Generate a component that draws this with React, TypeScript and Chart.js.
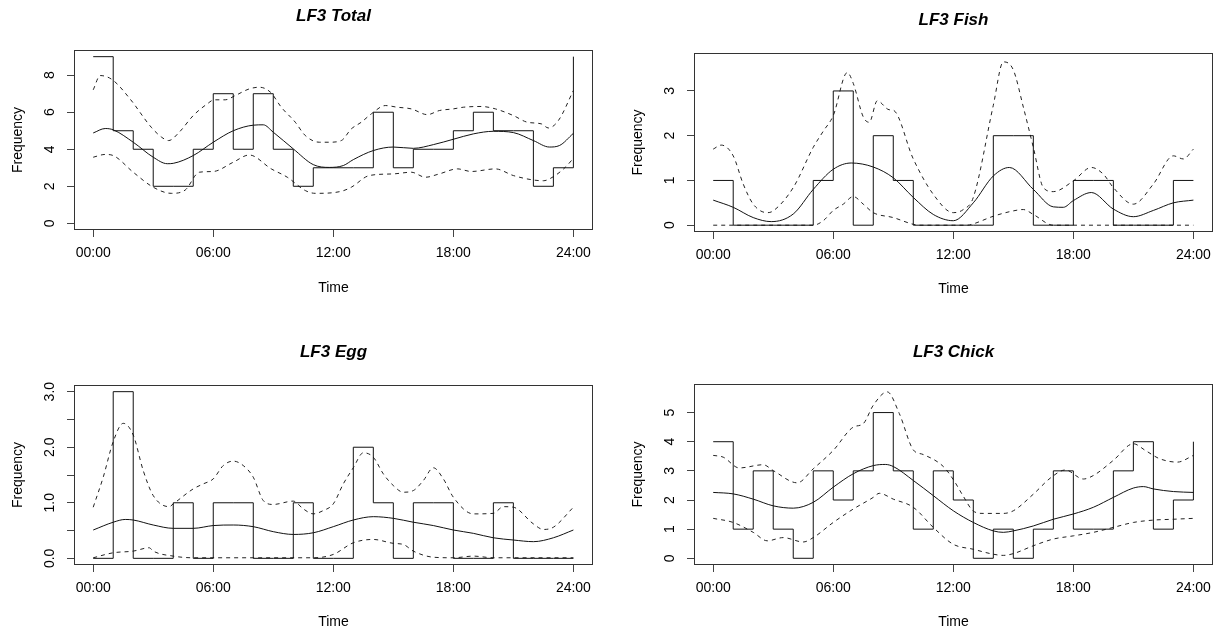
import React, { useEffect, useRef } from "react";
import { Chart, registerables } from "chart.js";

Chart.register(...registerables);

const FONT = '"Liberation Sans", Arial, sans-serif';

// hour edges of the histogram steps (value at 24 repeats hour 0)
const HOURS = [0, 1, 2, 3, 4, 5, 6, 7, 8, 9, 10, 11, 12, 13, 14, 15, 16, 17, 18, 19, 20, 21, 22, 23, 24];
const xTickValues = [0, 6, 12, 18, 24];
const xTickLabels = ["00:00", "06:00", "12:00", "18:00", "24:00"];

// ---- LF3 Total ----
const totalCounts = [9, 5, 4, 2, 2, 4, 7, 4, 7, 4, 2, 3, 3, 3, 6, 3, 4, 4, 5, 6, 5, 5, 2, 3, 9];
const totalFit: [number, number][] = [
  [0, 4.88], [0.6, 5.12], [1, 5.05], [2, 4.38], [3, 3.57], [3.7, 3.22], [4, 3.24], [5, 3.66], [6, 4.38], [7, 5.0],
  [8, 5.3], [8.5, 5.32], [9, 4.92], [10, 4.02], [11, 3.17], [11.8, 3.02], [12.5, 3.12], [13, 3.44], [14, 3.93], [15, 4.12],
  [16, 4.05], [17, 4.25], [18, 4.54], [19, 4.83], [20, 4.97], [21, 4.9], [22, 4.47], [22.8, 4.12], [23.3, 4.2], [24, 4.86],
];
const totalUpper: [number, number][] = [
  [0, 7.21], [0.35, 7.98], [0.96, 7.75], [1.84, 6.72], [2.9, 5.19], [3.42, 4.65], [3.77, 4.47], [4.3, 4.92], [5, 5.82],
  [5.7, 6.45], [6.05, 6.67], [6.6, 6.67], [7.1, 6.9], [7.8, 7.26], [8.3, 7.35], [8.86, 7.08], [9.4, 6.27], [10.1, 5.46],
  [10.6, 4.74], [11.3, 4.38], [11.8, 4.38], [12.4, 4.47], [12.9, 5.1], [13.4, 5.46], [13.9, 5.91], [14.6, 6.36],
  [15.2, 6.27], [15.9, 6.18], [16.7, 5.87], [17.3, 6.09], [18, 6.18], [18.5, 6.27], [19.4, 6.31], [20.1, 6.18],
  [21, 5.82], [21.7, 5.46], [22.4, 5.37], [22.75, 5.15], [23.25, 5.55], [24, 7.17],
];
const totalLower: [number, number][] = [
  [0, 3.57], [0.6, 3.72], [1, 3.66], [2, 2.76], [3, 1.95], [3.9, 1.62], [4.6, 1.8], [5.3, 2.76], [6, 2.8], [7, 3.3],
  [7.8, 3.69], [8.9, 2.94], [9.7, 2.49], [10.6, 1.77], [11.1, 1.62], [12.4, 1.73], [12.9, 1.95], [13.8, 2.58], [15, 2.67],
  [15.9, 2.76], [16.6, 2.49], [17.3, 2.67], [18.2, 2.94], [18.9, 2.8], [20.1, 2.94], [21, 2.58], [22, 2.34], [22.5, 2.3],
  [23, 2.52], [23.6, 3.03], [24, 3.51],
];

// ---- LF3 Fish ----
const fishCounts = [1, 0, 0, 0, 0, 1, 3, 0, 2, 1, 0, 0, 0, 0, 2, 2, 0, 0, 1, 1, 0, 0, 0, 1, 1];
const fishFit: [number, number][] = [
  [0, 0.56], [1, 0.4], [2, 0.17], [2.9, 0.08], [4, 0.25], [5, 0.8], [6, 1.25], [6.9, 1.39], [8, 1.3], [9, 1.06],
  [10, 0.62], [11, 0.24], [12, 0.1], [13, 0.5], [14, 1.1], [14.8, 1.29], [16, 0.8], [17, 0.41], [17.5, 0.4],
  [18, 0.55], [18.9, 0.73], [20, 0.36], [21, 0.19], [22, 0.33], [23, 0.5], [24, 0.56],
];
const fishUpper: [number, number][] = [
  [0, 1.7], [0.4, 1.79], [1, 1.55], [1.5, 0.92], [2, 0.47], [2.7, 0.28], [3, 0.32], [4, 0.84], [5, 1.74], [5.5, 2.1],
  [6, 2.45], [6.7, 3.41], [7, 3.17], [7.5, 2.42], [7.8, 2.3], [8.2, 2.78], [8.8, 2.58], [9, 2.57], [10, 1.48], [11, 0.69],
  [12, 0.28], [12.5, 0.35], [13, 0.62], [14, 2.68], [14.5, 3.65], [15, 3.47], [15.5, 2.64], [16, 1.74], [16.5, 0.84],
  [17, 0.75], [18, 0.99], [18.9, 1.29], [19.5, 1.14], [20, 0.84], [21, 0.47], [22, 0.92], [23, 1.55], [23.5, 1.48], [24, 1.7],
];
const fishLower: [number, number][] = [
  [0, 0], [5, 0], [5.5, 0.1], [6, 0.33], [6.5, 0.47], [7, 0.64], [7.5, 0.47], [8, 0.28], [9, 0.17], [10, 0.02],
  [10.3, 0], [12.7, 0], [13, 0.03], [14, 0.2], [15, 0.32], [15.5, 0.35], [16, 0.24], [17, 0], [24, 0],
];

// ---- LF3 Egg ----
const eggCounts = [0, 3, 0, 0, 1, 0, 1, 1, 0, 0, 1, 0, 0, 2, 1, 0, 1, 1, 0, 0, 1, 0, 0, 0, 0];
const eggFit: [number, number][] = [
  [0, 0.51], [1, 0.65], [1.6, 0.7], [2, 0.69], [3, 0.6], [4, 0.54], [5, 0.54], [6, 0.59], [7, 0.6], [8, 0.57],
  [9, 0.48], [10, 0.43], [11, 0.46], [12, 0.57], [13, 0.69], [14, 0.75], [15, 0.72], [16, 0.65], [17, 0.59],
  [18, 0.51], [19, 0.45], [20, 0.37], [21, 0.33], [22, 0.3], [23, 0.37], [24, 0.51],
];
const eggUpper: [number, number][] = [
  [0, 0.92], [0.5, 1.46], [1, 2.1], [1.5, 2.43], [2, 2.22], [2.5, 1.58], [3, 1.13], [3.8, 0.93], [4, 0.98], [5, 1.25],
  [5.5, 1.34], [6, 1.43], [6.5, 1.67], [7, 1.75], [7.5, 1.67], [8, 1.46], [8.5, 1.04], [9, 0.97], [10, 1.03],
  [10.5, 0.89], [11, 0.8], [11.5, 0.86], [12, 0.98], [12.5, 1.34], [13, 1.63], [13.5, 1.9], [14, 1.82], [14.5, 1.52],
  [15, 1.31], [15.5, 1.19], [16, 1.22], [16.5, 1.4], [17, 1.63], [17.5, 1.43], [18, 1.1], [19, 0.8], [20, 0.81],
  [20.5, 0.93], [21, 0.92], [22, 0.62], [22.5, 0.52], [23, 0.56], [24, 0.92],
];
const eggLower: [number, number][] = [
  [0, 0.01], [1, 0.1], [2, 0.13], [2.8, 0.19], [3, 0.13], [4, 0.04], [5, 0.01], [11, 0.01], [12, 0.07], [13, 0.28],
  [14, 0.34], [15, 0.27], [15.5, 0.25], [16, 0.13], [17, 0.02], [18, 0.01], [19, 0.04], [20, 0.01], [24, 0.01],
];

// ---- LF3 Chick ----
const chickCounts = [4, 1, 3, 1, 0, 3, 2, 3, 5, 3, 1, 3, 2, 0, 1, 0, 1, 3, 1, 1, 3, 4, 1, 2, 4];
const chickFit: [number, number][] = [
  [0, 2.26], [1, 2.21], [2, 2.03], [3, 1.8], [4, 1.72], [5, 1.92], [6, 2.44], [7, 2.9], [8, 3.18], [8.6, 3.22],
  [9, 3.15], [10, 2.67], [11, 2.15], [12, 1.63], [13, 1.23], [14, 0.94], [14.5, 0.89], [15, 0.94], [16, 1.11],
  [17, 1.34], [18, 1.52], [19, 1.75], [20, 2.09], [21, 2.41], [21.5, 2.46], [22, 2.38], [23, 2.29], [24, 2.26],
];
const chickUpper: [number, number][] = [
  [0, 3.53], [0.5, 3.47], [1.3, 3.1], [2.5, 3.21], [3, 3.01], [4.2, 2.59], [5, 3.07], [6, 3.7], [7, 4.5], [7.5, 4.62],
  [8, 5.25], [8.7, 5.71], [9.3, 4.97], [10, 3.72], [10.5, 3.56], [11.5, 3.15], [12, 2.7], [12.5, 2.13], [13, 1.62],
  [13.5, 1.54], [14.5, 1.54], [15, 1.63], [16, 2.2], [16.9, 2.78], [17.6, 3.03], [18.5, 2.72], [19, 2.84], [20, 3.36],
  [21, 3.93], [21.6, 3.7], [22.3, 3.42], [23.2, 3.3], [24, 3.53],
];
const chickLower: [number, number][] = [
  [0, 1.37], [1, 1.23], [2, 0.89], [2.7, 0.6], [3.5, 0.71], [4.5, 0.56], [5, 0.71], [6, 1.23], [7, 1.69], [8, 2.09],
  [8.3, 2.23], [9, 2.03], [10, 1.75], [11, 1.06], [12, 0.48], [13, 0.31], [14, 0.14], [14.5, 0.1], [15, 0.16],
  [16, 0.43], [17, 0.66], [18, 0.77], [19, 0.89], [20, 1.06], [21, 1.23], [22, 1.31], [23, 1.34], [24, 1.37],
];

// y tick values / labels
const totalYTicks = [0, 2, 4, 6, 8];
const totalYLabels = ["0", "2", "4", "6", "8"];
const fishYTicks = [0, 1, 2, 3];
const fishYLabels = ["0", "1", "2", "3"];
const eggYTicks = [0, 0.5, 1, 1.5, 2, 2.5, 3];
const eggYLabels = ["0.0", "", "1.0", "", "2.0", "", "3.0"];
const chickYTicks = [0, 1, 2, 3, 4, 5];
const chickYLabels = ["0", "1", "2", "3", "4", "5"];

type Panel = {
  title: string;
  counts: number[];
  fit: [number, number][];
  upper: [number, number][];
  lower: [number, number][];
  yTicks: number[];
  yLabels: string[];
  yMin: number;
  yMax: number;
  // layout
  left: number;
  top: number;
  width: number;
  height: number;
  padRight: number;
  xHeight: number;
  titleTop: number;
  titleBottom: number;
  timePad: number;
  yPad: number;
};

const panels: Panel[] = [
  {
    title: "LF3 Total", counts: totalCounts, fit: totalFit, upper: totalUpper, lower: totalLower,
    yTicks: totalYTicks, yLabels: totalYLabels, yMin: -0.36, yMax: 9.36,
    left: 0, top: 0, width: 610, height: 316, padRight: 17, xHeight: 86,
    titleTop: 6.5, titleBottom: 23.1, timePad: 19.6, yPad: 13.1,
  },
  {
    title: "LF3 Fish", counts: fishCounts, fit: fishFit, upper: fishUpper, lower: fishLower,
    yTicks: fishYTicks, yLabels: fishYLabels, yMin: -0.152, yMax: 3.848,
    left: 620, top: 0, width: 601, height: 316, padRight: 8, xHeight: 84,
    titleTop: 10.1, titleBottom: 22.5, timePad: 18.6, yPad: 13.1,
  },
  {
    title: "LF3 Egg", counts: eggCounts, fit: eggFit, upper: eggUpper, lower: eggLower,
    yTicks: eggYTicks, yLabels: eggYLabels, yMin: -0.12, yMax: 3.12,
    left: 0, top: 316, width: 610, height: 316, padRight: 17, xHeight: 67,
    titleTop: 25.8, titleBottom: 22.8, timePad: 1.6, yPad: 7.3,
  },
  {
    title: "LF3 Chick", counts: chickCounts, fit: chickFit, upper: chickUpper, lower: chickLower,
    yTicks: chickYTicks, yLabels: chickYLabels, yMin: -0.23, yMax: 5.98,
    left: 620, top: 316, width: 601, height: 316, padRight: 8, xHeight: 67,
    titleTop: 25.8, titleBottom: 21.8, timePad: 1.6, yPad: 13.1,
  },
];

const toXY = (arr: [number, number][]) => arr.map(([x, y]) => ({ x, y }));

const framePlugin = {
  id: "frame",
  afterDatasetsDraw(chart: any) {
    const { ctx, chartArea: a } = chart;
    ctx.save();
    ctx.strokeStyle = "#333";
    ctx.lineWidth = 1;
    const x0 = Math.round(a.left) + 0.5;
    const y0 = Math.round(a.top) + 0.5;
    const x1 = Math.round(a.right) - 0.5;
    const y1 = Math.round(a.bottom) - 0.5;
    ctx.strokeRect(x0, y0, x1 - x0, y1 - y0);
    ctx.restore();
  },
};

function makeConfig(p: Panel): any {
  const common = { pointRadius: 0, borderWidth: 1, fill: false };
  return {
    type: "line",
    data: {
      datasets: [
        { ...common, data: HOURS.map((h, i) => ({ x: h, y: p.counts[i] })), stepped: true, borderColor: "#111" },
        { ...common, data: toXY(p.fit), borderColor: "#111", cubicInterpolationMode: "monotone" },
        { ...common, data: toXY(p.upper), borderColor: "#222", borderDash: [4, 4], cubicInterpolationMode: "monotone" },
        { ...common, data: toXY(p.lower), borderColor: "#222", borderDash: [4, 4], cubicInterpolationMode: "monotone" },
      ],
    },
    options: {
      animation: false,
      responsive: false,
      devicePixelRatio: 1,
      events: [],
      layout: { padding: { left: 0, right: p.padRight, top: 0, bottom: 0 } },
      plugins: {
        legend: { display: false },
        tooltip: { enabled: false },
        title: {
          display: true,
          text: p.title,
          fullSize: false,
          color: "#000",
          font: { family: FONT, size: 17, weight: "bold", style: "italic", lineHeight: 1.2 },
          padding: { top: p.titleTop, bottom: p.titleBottom },
        },
      },
      scales: {
        x: {
          type: "linear",
          min: -0.96,
          max: 24.98,
          afterBuildTicks: (s: any) => {
            s.ticks = xTickValues.map((v) => ({ value: v }));
          },
          afterFit: (s: any) => {
            s.height = p.xHeight;
          },
          grid: { drawOnChartArea: false, drawTicks: true, tickLength: 7, tickColor: "#444", lineWidth: 1 },
          border: { display: false },
          ticks: {
            autoSkip: false,
            maxRotation: 0,
            minRotation: 0,
            padding: 8,
            color: "#000",
            font: { family: FONT, size: 14, lineHeight: 1.2 },
            callback: (_v: any, i: number) => xTickLabels[i],
          },
          title: {
            display: true,
            text: "Time",
            color: "#000",
            font: { family: FONT, size: 14, lineHeight: 1.2 },
            padding: { top: 0, bottom: p.timePad },
          },
        },
        y: {
          type: "linear",
          min: p.yMin,
          max: p.yMax,
          afterBuildTicks: (s: any) => {
            s.ticks = p.yTicks.map((v) => ({ value: v }));
          },
          afterFit: (s: any) => {
            s.width = 74;
          },
          grid: { drawOnChartArea: false, drawTicks: true, tickLength: 7, tickColor: "#444", lineWidth: 1 },
          border: { display: false },
          ticks: {
            autoSkip: false,
            minRotation: 90,
            maxRotation: 90,
            crossAlign: "center",
            padding: p.yPad,
            color: "#000",
            font: { family: FONT, size: 14, lineHeight: 1.2 },
            callback: (_v: any, i: number) => p.yLabels[i],
          },
          title: {
            display: true,
            text: "Frequency",
            color: "#000",
            font: { family: FONT, size: 14, lineHeight: 1.2 },
            padding: { top: 9.9, bottom: 0 },
          },
        },
      },
    },
    plugins: [framePlugin],
  };
}

function PanelChart({ p }: { p: Panel }) {
  const ref = useRef<HTMLCanvasElement | null>(null);
  useEffect(() => {
    if (!ref.current) return;
    const chart = new Chart(ref.current, makeConfig(p));
    return () => chart.destroy();
  }, [p]);
  return (
    <canvas
      ref={ref}
      width={p.width}
      height={p.height}
      style={{ position: "absolute", left: p.left, top: p.top, width: p.width, height: p.height }}
    />
  );
}

export default function App() {
  return (
    <div style={{ position: "absolute", left: 0, top: 0, width: 1221, height: 632, background: "#fff", overflow: "hidden" }}>
      {panels.map((p) => (
        <PanelChart key={p.title} p={p} />
      ))}
    </div>
  );
}
